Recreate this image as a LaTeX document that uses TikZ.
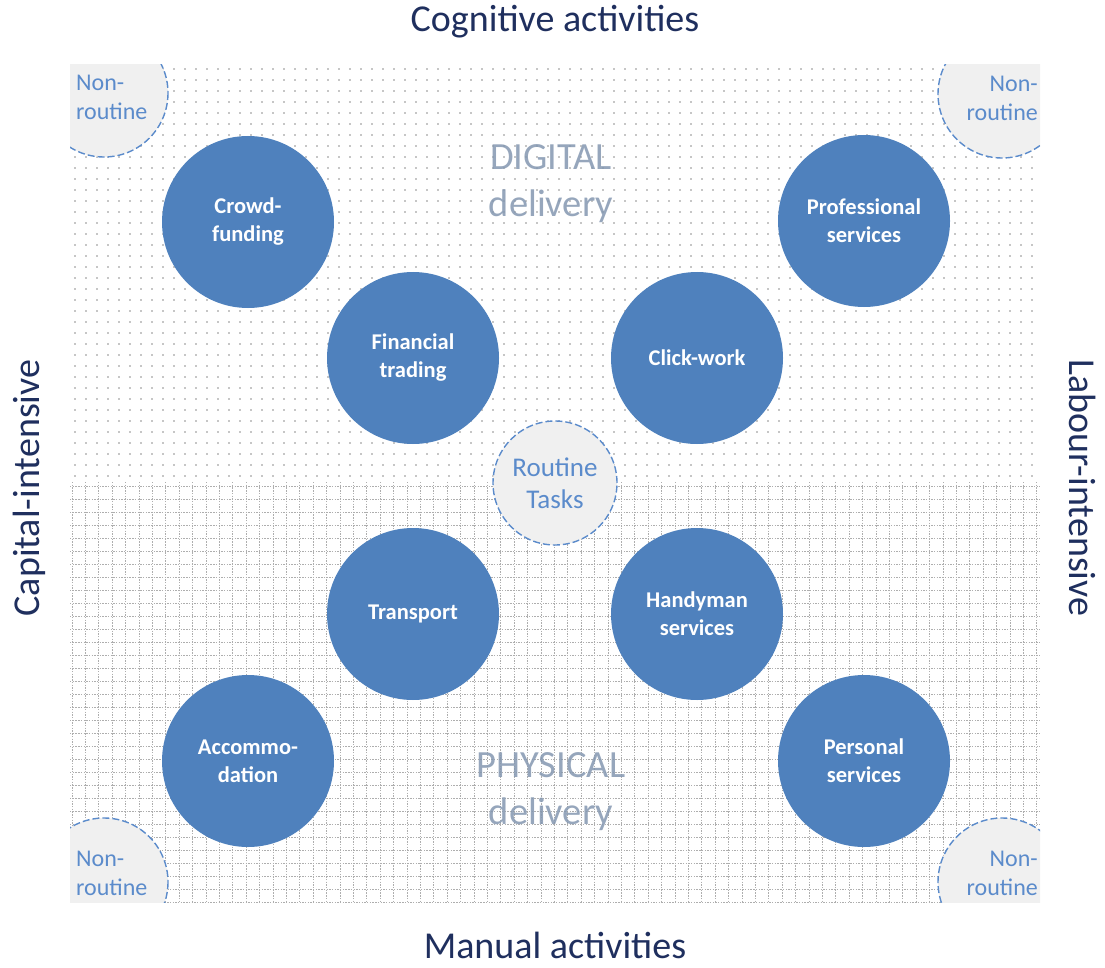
\documentclass[tikz,border=0pt]{standalone}
\usepackage{fontspec}
\setmainfont{Carlito}
\usetikzlibrary{calc}

\definecolor{tileblue}{HTML}{4F81BD}
\definecolor{dashblue}{HTML}{5B8BCB}
\definecolor{softgray}{HTML}{F0F0F0}
\definecolor{navy}{HTML}{1F2F5E}
\definecolor{delivgray}{HTML}{8497B0}
\definecolor{dotgray}{HTML}{8C8C8C}

\tikzset{
  bluedisc/.style={circle, fill=tileblue, minimum size=172pt, inner sep=0pt,
    text=white, align=center, font=\fontsize{22.5}{28}\selectfont\bfseries},
  taskdisc/.style={circle, fill=softgray, draw=dashblue, line width=1.4pt,
    dash pattern=on 7pt off 3pt, minimum size=124pt, inner sep=0pt,
    text=dashblue, align=center, font=\fontsize{27}{32}\selectfont},
  cornertext/.style={text=dashblue, font=\fontsize{24}{29}\selectfont, inner sep=0pt},
  axistext/.style={text=navy, font=\fontsize{38}{44}\selectfont, inner sep=1pt},
  delivtext/.style={text=delivgray, text opacity=0.85, align=center,
    font=\fontsize{38.5}{47}\selectfont},
  gridline/.style={dotgray!70, line width=0.8pt, dash pattern=on 1.4pt off 1.3pt}
}

\begin{document}
\begin{tikzpicture}[x=1pt,y=-1pt]
\useasboundingbox (0,0) rectangle (1105,968);

% panel corners
\coordinate (nw) at (70,65);
\coordinate (se) at (1040,902);

% dotted upper half
\fill[dotgray] \foreach \i in {0,...,87} {\foreach \j in {0,...,37}
  {(75+\i*11,69+\j*11) circle (0.9)}};

% grid in the lower half
\foreach \j in {0,...,32}
  \draw[gridline] (70,486+\j*13) -- (1040,486+\j*13);
\foreach \i in {0,...,72}
  \draw[gridline] (72+\i*13.4,482) -- (72+\i*13.4,902);

% the four non-routine corners
\begin{scope}
\clip (nw) rectangle (se);
\filldraw[fill=softgray, draw=dashblue, line width=1.4pt, dash pattern=on 7pt off 3pt]
  (104,93) circle (64) (1002,94) circle (64)
  (104,882) circle (64) (1002,882) circle (64);
\end{scope}
\node[cornertext, anchor=west, align=left] (nrtl) at (76,97) {Non-\\routine};
\node[cornertext, anchor=east, align=right] (nrtr) at (1038,98) {Non-\\routine};
\node[cornertext, anchor=west, align=left] (nrbl) at (76,873) {Non-\\routine};
\node[cornertext, anchor=east, align=right] (nrbr) at (1038,873) {Non-\\routine};

% delivery modes
\node[delivtext] (digital) at (551,184) {DIGITAL\\delivery};
\node[delivtext] (physical) at (551,792) {PHYSICAL\\delivery};

% platform types
\node[bluedisc] (crowd) at (248,222) {Crowd-\\funding};
\node[bluedisc] (prof) at (864,221) {Professional\\services};
\node[bluedisc] (fin) at (413,358) {Financial\\trading};
\node[bluedisc] (click) at (697,358) {Click-work};
\node[bluedisc] (transp) at (413,614) {Transport};
\node[bluedisc] (handy) at (697,614) {Handyman\\services};
\node[bluedisc] (accom) at (248,761) {Accommo-\\dation};
\node[bluedisc] (pers) at (864,761) {Personal\\services};

\node[taskdisc] (routine) at (555,483) {Routine\\Tasks};

% axis labels
\node[axistext] (cogn) at (555,22) {Cognitive activities};
\node[axistext] (manual) at (555,945) {Manual activities};
\node[axistext, rotate=90] (capital) at (29,488) {Capital-intensive};
\node[axistext, rotate=-90] (labour) at (1083,488) {Labour-intensive};

\end{tikzpicture}
\end{document}
